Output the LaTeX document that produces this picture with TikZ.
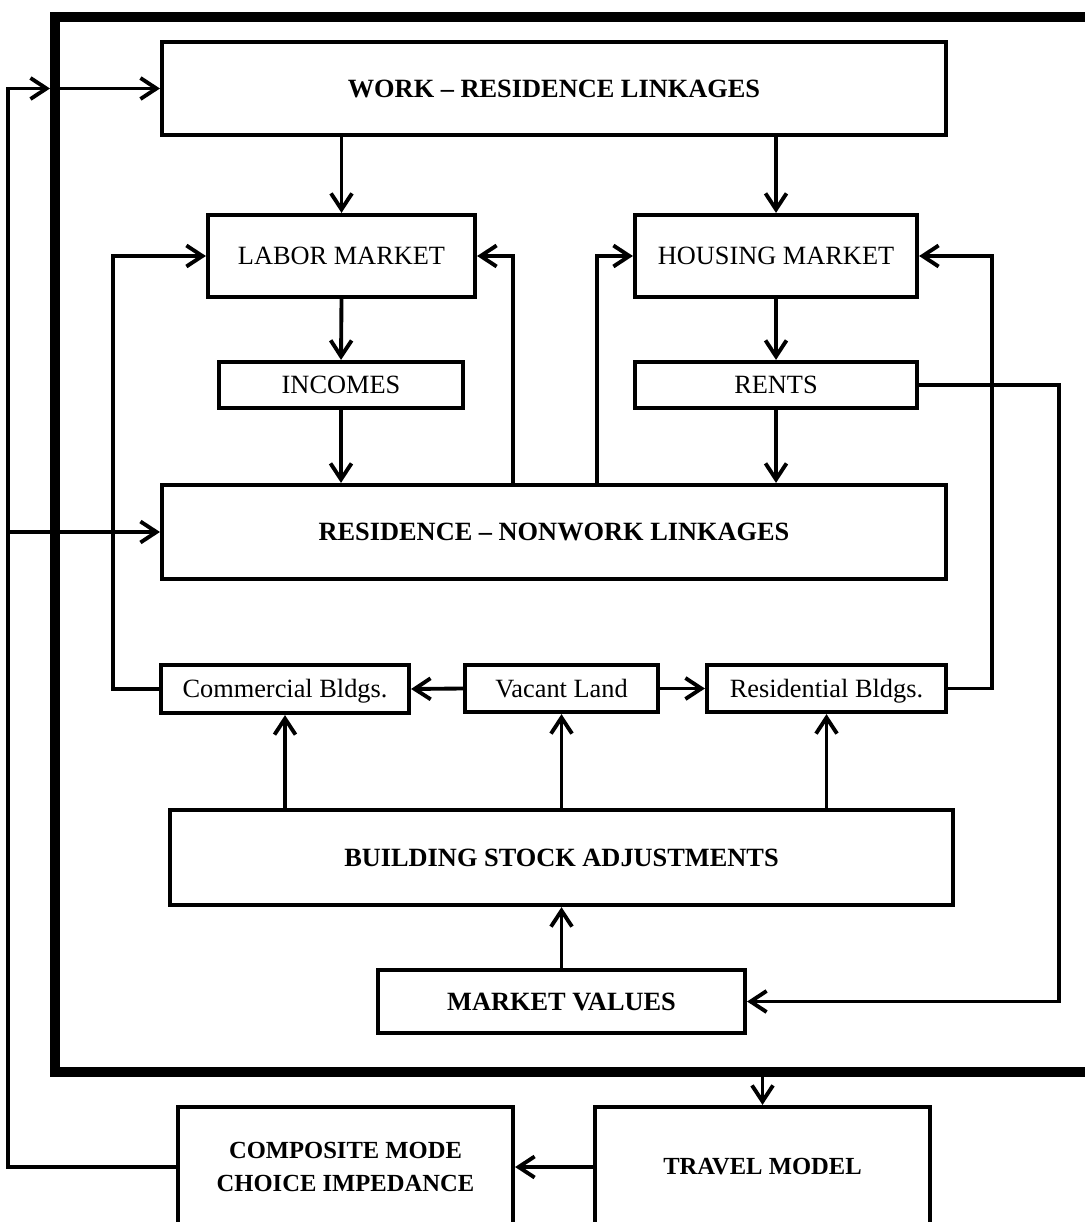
\documentclass[tikz,border=0pt]{standalone}
\usepackage{fontspec}
\setmainfont{Liberation Serif}
\usetikzlibrary{arrows.meta}

\begin{document}
\begin{tikzpicture}[x=0.02cm, y=-0.02cm,
    plain/.style={draw, line width=2.4pt, inner sep=2pt, align=center},
    box/.style={plain, text height=10pt, text depth=0pt, font=\fontsize{15}{18}\selectfont},
    boldbox/.style={box, font=\fontsize{15}{18}\selectfont\bfseries},
    lowbox/.style={plain, font=\fontsize{14}{19}\selectfont\bfseries},
    link/.style={line width=2.2pt, -{Straight Barb[length=3.2mm, width=4.2mm]}}]
  \useasboundingbox (0,0) rectangle (1084,1222);
  \node[draw, line width=5.6pt, anchor=north west, minimum width=21cm, minimum height=21.1cm] (frame) at (50,12) {};

  \node[boldbox, minimum width=15.68cm, minimum height=1.86cm] (wrl) at (554,88.5) {WORK -- RESIDENCE LINKAGES};
  \node[box, minimum width=5.34cm, minimum height=1.64cm] (labor) at (341.5,256) {LABOR MARKET};
  \node[box, minimum width=5.64cm, minimum height=1.64cm] (housing) at (776,256) {HOUSING MARKET};
  \node[box, minimum width=4.88cm, minimum height=0.92cm] (incomes) at (341,385) {INCOMES};
  \node[box, minimum width=5.64cm, minimum height=0.92cm] (rents) at (776,385) {RENTS};
  \node[boldbox, minimum width=15.68cm, minimum height=1.88cm] (rnl) at (554,532) {RESIDENCE -- NONWORK LINKAGES};
  \node[box, minimum width=4.96cm, minimum height=0.96cm] (comm) at (285,689) {Commercial Bldgs.};
  \node[box, minimum width=3.86cm, minimum height=0.94cm] (vacant) at (561.5,688.5) {Vacant Land};
  \node[box, minimum width=4.78cm, minimum height=0.94cm] (resid) at (826.5,688.5) {Residential Bldgs.};
  \node[boldbox, minimum width=15.66cm, minimum height=1.9cm] (bsa) at (561.5,857.5) {BUILDING STOCK ADJUSTMENTS};
  \node[boldbox, minimum width=7.34cm, minimum height=1.26cm] (values) at (561.5,1001.5) {MARKET VALUES};
  \node[lowbox, minimum width=6.7cm, minimum height=2.4cm] (comp) at (345.5,1167) {COMPOSITE MODE\\CHOICE IMPEDANCE};
  \node[lowbox, minimum width=6.7cm, minimum height=2.4cm] (travel) at (762.5,1167) {TRAVEL MODEL};

  \draw[link] (labor.north |- wrl.south) -- (labor.north);
  \draw[link] (housing.north |- wrl.south) -- (housing.north);
  \draw[link] (labor.south) -- (incomes.north);
  \draw[link] (housing.south) -- (rents.north);
  \draw[link] (incomes.south) -- (incomes.south |- rnl.north);
  \draw[link] (rents.south) -- (rents.south |- rnl.north);
  \draw[link] ([xshift=-0.82cm]rnl.north) |- (labor.east);
  \draw[link] ([xshift=0.86cm]rnl.north) |- (housing.west);
  \draw[link] (comm.west) -- ++(-0.92cm,0) |- (labor.west);
  \draw[link] (resid.east) -- ++(0.88cm,0) |- (housing.east);
  \draw[link] (vacant.west) -- (comm.east);
  \draw[link] (vacant.east) -- (resid.west);
  \draw[link] (comm.south |- bsa.north) -- (comm.south);
  \draw[link] (vacant.south |- bsa.north) -- (vacant.south);
  \draw[link] (resid.south |- bsa.north) -- (resid.south);
  \draw[link] (values.north) -- (values.north |- bsa.south);
  \draw[link] (rents.east) -- ++(2.8cm,0) |- (values.east);
  \draw[link] (frame.south -| travel.north) -- (travel.north);
  \draw[link] (travel.west) -- (comp.east);
  \draw[link] (comp.west) -- ++(-3.36cm,0) coordinate (back) |- (frame.west |- wrl.west);
  \draw[link] (frame.west |- wrl.west) -- (wrl.west);
  \draw[link] (back |- rnl.west) -- (rnl.west);
\end{tikzpicture}
\end{document}
